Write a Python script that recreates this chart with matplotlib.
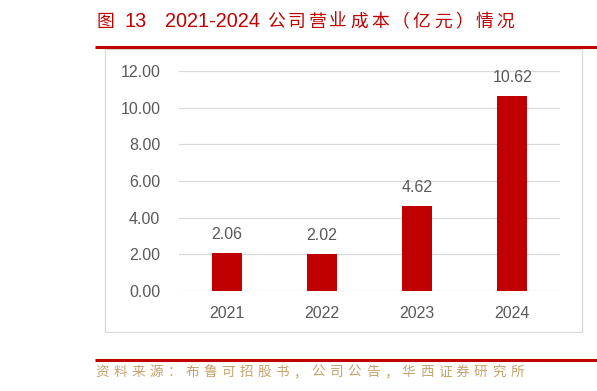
import matplotlib
matplotlib.use("Agg")
import matplotlib.pyplot as plt
from matplotlib.patches import Rectangle
from matplotlib.lines import Line2D

# ---- data ----
years = ["2021", "2022", "2023", "2024"]
cost = [2.06, 2.02, 4.62, 10.62]
yticks = [0, 2, 4, 6, 8, 10, 12]
ytick_labels = ["0.00", "2.00", "4.00", "6.00", "8.00", "10.00", "12.00"]
title_prefix = "图"
title_num = "13"
title_years = "2021-2024"
title_cjk = "公司营业成本（亿元）情况"
source = "资料来源：布鲁可招股书，公司公告，华西证券研究所"

W, H = 597, 391
fig = plt.figure(figsize=(W / 100, H / 100), dpi=100)


def fx(px):
    return px / W


def fy(py):
    return 1 - py / H


RED = "#C00000"
GRAY_TXT = "#595959"
GRID = "#D9D9D9"
TAN = "#C5A46D"
CJK = ["Noto Sans CJK SC", "DejaVu Sans"]
NUM = ["Liberation Sans", "DejaVu Sans"]

# ---- chart box and decorative lines ----
fig.add_artist(Rectangle((fx(105), fy(332)), fx(582) - fx(105), fy(49) - fy(332),
                         transform=fig.transFigure, fill=False, edgecolor=GRID, lw=0.9))
fig.add_artist(Line2D([fx(95), fx(597)], [fy(47.2), fy(47.2)], transform=fig.transFigure,
                      color=RED, lw=2.2, solid_capstyle="butt"))
fig.add_artist(Line2D([fx(95), fx(597)], [fy(359.7), fy(359.7)], transform=fig.transFigure,
                      color=RED, lw=2.2, solid_capstyle="butt"))

# ---- title ----
ty = fy(21.7)
fig.text(fx(105), ty, title_prefix, color=RED, fontsize=12.8, family=CJK,
         ha="center", va="center")
fig.text(fx(125), ty, title_num, color=RED, fontsize=14.3, family=NUM,
         ha="left", va="center")
fig.text(fx(165), ty, title_years, color=RED, fontsize=14.3, family=NUM,
         ha="left", va="center")
for i, ch in enumerate(title_cjk):
    fig.text(fx(275.5 + 20.9 * i), ty, ch, color=RED, fontsize=12.8, family=CJK,
             ha="center", va="center")

# ---- source ----
sy = fy(372)
for i, ch in enumerate(source):
    fig.text(fx(102 + 18.04 * i), sy, ch, color=TAN, fontsize=9.8, family=CJK,
             ha="center", va="center")

# ---- axes ----
ax = fig.add_axes([fx(179), fy(291), fx(560) - fx(179), fy(71) - fy(291)])
x = list(range(len(years)))
bars = ax.bar(x, cost, width=0.315, color=RED, zorder=3)
ax.set_xlim(-0.5, len(years) - 0.5)
ax.set_ylim(0, 12)
ax.set_yticks(yticks)
ax.set_yticklabels(ytick_labels)
ax.set_xticks(x)
ax.set_xticklabels(years)
ax.yaxis.grid(True, color=GRID, lw=0.9, zorder=0)
ax.set_axisbelow(True)
for s in ax.spines.values():
    s.set_visible(False)
ax.tick_params(axis="both", length=0, labelsize=11.5, labelcolor=GRAY_TXT)
ax.tick_params(axis="y", pad=13.5)
ax.tick_params(axis="x", pad=10.5)
for lab in ax.get_xticklabels() + ax.get_yticklabels():
    lab.set_family(NUM)

for xi, v in zip(x, cost):
    ax.annotate(f"{v:.2f}", (xi, v), xytext=(0, 10.3), textcoords="offset points",
                ha="center", va="baseline", fontsize=11.5, color=GRAY_TXT, family=NUM)

fig.savefig("out.png", dpi=100)
